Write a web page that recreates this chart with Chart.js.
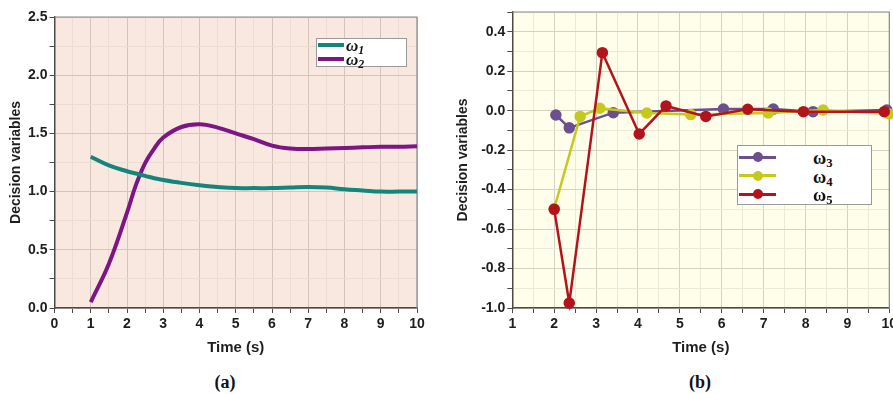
<!DOCTYPE html>
<html>
<head>
<meta charset="utf-8">
<script src="https://cdn.jsdelivr.net/npm/chart.js@4.4.1/dist/chart.umd.min.js"></script>
<style>
  html, body { margin: 0; padding: 0; background: #fff; overflow: hidden; }
  body { width: 893px; height: 394px; position: relative; }
  .panel { position: absolute; top: 0; }
  #panelA { left: 0; width: 446px; height: 362px; }
  #panelB { left: 446px; width: 455px; height: 362px; }
  .caption {
    position: absolute; top: 372px; width: 60px; margin-left: -30px; text-align: center;
    font: bold 18px 'Liberation Serif', 'DejaVu Serif', serif; color: #111;
  }
  .legend {
    position: absolute; background: #fff; border: 1px solid #9a9a9a; box-sizing: border-box;
  }
  .legend .row { position: absolute; left: 0; right: 0; height: 18px; }
  .legend .swatch { position: absolute; top: 50%; }
  .legend .dot { position: absolute; width: 10px; height: 10px; border-radius: 50%; top: 50%; margin-top: -5px; }
  .legend .lbl { position: absolute; top: 0; line-height: 18px; color: #111; }
  .legend sub { font-size: 70%; vertical-align: -3px; line-height: 0; }
  #legendA { left: 316px; top: 38px; width: 91px; height: 29px; }
  #legendA .lbl { font: italic bold 17px 'Liberation Serif', 'DejaVu Serif', serif; left: 29px; }
  #legendB { left: 291px; top: 145px; width: 135px; height: 60px; }
  #legendB .lbl { font: bold 18px 'Liberation Serif', 'DejaVu Serif', serif; left: 75px; }
</style>
</head>
<body>
<div class="panel" id="panelA">
  <canvas id="chartA" width="446" height="362"></canvas>
  <div class="legend" id="legendA"></div>
</div>
<div class="panel" id="panelB">
  <canvas id="chartB" width="455" height="362"></canvas>
  <div class="legend" id="legendB"></div>
</div>
<div class="caption" style="left:225px">(a)</div>
<div class="caption" style="left:700px">(b)</div>
<script>
// (a) smooth responses
const timeA = [1, 1.5, 2, 2.25, 2.5, 2.75, 3, 3.5, 4, 4.5, 5, 5.5, 6, 6.5, 7, 7.5, 8, 8.5, 9, 9.5, 10];
const omega1 = [1.30, 1.225, 1.175, 1.155, 1.135, 1.115, 1.10, 1.075, 1.055, 1.04, 1.03, 1.03, 1.03, 1.035, 1.04, 1.035, 1.02, 1.01, 1.00, 1.00, 1.00];
const omega2 = [0.05, 0.38, 0.82, 1.06, 1.245, 1.37, 1.465, 1.555, 1.578, 1.55, 1.50, 1.45, 1.395, 1.37, 1.365, 1.37, 1.375, 1.38, 1.385, 1.385, 1.39];

// (b) sampled responses
const time3 = [2.04, 2.36, 3.41, 6.04, 7.23, 8.18, 9.94];
const omega3 = [-0.022, -0.087, -0.01, 0.008, 0.008, -0.005, 0.003];
const time4 = [2.0, 2.62, 3.09, 4.21, 5.26, 7.11, 8.42, 10];
const omega4 = [-0.497, -0.029, 0.012, -0.012, -0.02, -0.012, 0.003, -0.017];
const time5 = [2.0, 2.36, 3.15, 4.03, 4.67, 5.62, 6.62, 7.95, 9.88];
const omega5 = [-0.5, -0.975, 0.294, -0.118, 0.024, -0.029, 0.007, -0.005, -0.005];

const xTicksA = [0, 10];
const yTicksA = [0, 2.5];
const xTicksB = [1, 10];
const yTicksB = [-1.0, 0.5];

const colors = {
  w1: '#14857d', w2: '#7d1587', w3: '#6b4f8e', w4: '#c5c91d', w5: '#b3141c',
  ink: '#1e1e1e', axis: '#4a4a4a', frame: '#8a8a8a',
};

Chart.defaults.font.family = "'Liberation Sans', Arial, sans-serif";
Chart.defaults.color = colors.ink;

const zip = (xs, ys) => xs.map((x, i) => ({ x, y: ys[i] }));
const isMult = (v, s) => Math.abs(v / s - Math.round(v / s)) < 1e-6;
const fmt1 = (v) => (Math.abs(v) < 1e-9 ? 0 : v).toFixed(1);

// plot background + frame
const plotBg = {
  id: 'plotBg',
  beforeDraw(chart, args, opts) {
    const { ctx, chartArea: a } = chart;
    ctx.save();
    ctx.fillStyle = opts.color;
    ctx.fillRect(a.left, a.top, a.right - a.left, a.bottom - a.top);
    ctx.restore();
  },
  beforeDatasetsDraw(chart) {
    const { ctx, chartArea: a } = chart;
    ctx.save();
    ctx.strokeStyle = colors.frame;
    ctx.lineWidth = 1.2;
    ctx.beginPath();
    ctx.moveTo(a.left, a.top);
    ctx.lineTo(a.right, a.top);
    ctx.lineTo(a.right, a.bottom);
    ctx.stroke();
    ctx.restore();
  },
};

function axisX(range, step, major, gridMajor, gridMinor, height) {
  return {
    type: 'linear', min: range[0], max: range[1],
    afterFit: (s) => { s.height = height; },
    ticks: {
      stepSize: step, autoSkip: false, maxRotation: 0, padding: 3,
      font: { size: 14, weight: 'bold' },
      callback: (v) => (isMult(v, major) ? String(Math.round(v)) : ''),
    },
    grid: {
      color: (c) => (isMult(c.tick.value, major) ? gridMajor : gridMinor),
      tickColor: colors.axis, tickLength: 5, lineWidth: 1,
    },
    border: { color: colors.axis, width: 1.5 },
    title: { display: true, text: 'Time (s)', font: { size: 15, weight: 'bold' }, padding: { bottom: 5 } },
  };
}

function axisY(range, step, major, gridMajor, gridMinor, width, titlePad) {
  return {
    type: 'linear', min: range[0], max: range[1],
    afterFit: (s) => { s.width = width; },
    ticks: {
      stepSize: step, autoSkip: false, padding: 2,
      font: { size: 14, weight: 'bold' },
      callback: (v) => (isMult(v, major) ? fmt1(v) : ''),
    },
    grid: {
      color: (c) => (isMult(c.tick.value, major) ? gridMajor : gridMinor),
      tickColor: colors.axis, tickLength: 5, lineWidth: 1,
    },
    border: { color: colors.axis, width: 1.5 },
    title: { display: true, text: 'Decision variables', font: { size: 14, weight: 'bold' }, padding: { top: titlePad } },
  };
}

const chartA = new Chart(document.getElementById('chartA'), {
  type: 'line',
  data: {
    datasets: [
      { label: '1', data: zip(timeA, omega1), borderColor: colors.w1, borderWidth: 4, pointRadius: 0, tension: 0.4 },
      { label: '2', data: zip(timeA, omega2), borderColor: colors.w2, borderWidth: 4, pointRadius: 0, tension: 0.4 },
    ],
  },
  options: {
    responsive: false, animation: false, devicePixelRatio: 1,
    layout: { padding: { top: 17, right: 29, left: 0, bottom: 0 } },
    plugins: { legend: { display: false }, tooltip: { enabled: false }, plotBg: { color: '#f9e8df' } },
    scales: {
      x: axisX(xTicksA, 0.5, 1, '#d6c4b9', '#ecdcd2', 54),
      y: axisY(yTicksA, 0.25, 0.5, '#d6c4b9', '#ecdcd2', 54.5, 7.5),
    },
  },
  plugins: [plotBg],
});

const pointStyle = (c) => ({
  borderColor: c, backgroundColor: c, pointBackgroundColor: c, pointBorderColor: c,
  borderWidth: 2.5, pointRadius: 4.5, tension: 0, clip: false,
});

const chartB = new Chart(document.getElementById('chartB'), {
  type: 'line',
  data: {
    datasets: [
      { label: '3', data: zip(time3, omega3), order: 3, ...pointStyle(colors.w3) },
      { label: '4', data: zip(time4, omega4), order: 2, ...pointStyle(colors.w4) },
      { label: '5', data: zip(time5, omega5), order: 1, ...pointStyle(colors.w5) },
    ],
  },
  options: {
    responsive: false, animation: false, devicePixelRatio: 1,
    layout: { padding: { top: 12, right: 11.7, left: 0, bottom: 0 } },
    plugins: { legend: { display: false }, tooltip: { enabled: false }, plotBg: { color: '#fefeeb' } },
    scales: {
      x: axisX(xTicksB, 0.5, 1, '#d3d3c4', '#eaeadb', 54),
      y: axisY(yTicksB, 0.1, 0.2, '#d3d3c4', '#eaeadb', 66.3, 8.5),
    },
  },
  plugins: [plotBg],
});

// html legends built from the datasets
function buildLegend(chart, el, opts) {
  chart.data.datasets.forEach((ds, i) => {
    const row = document.createElement('div');
    row.className = 'row';
    row.style.top = (opts.top + i * opts.gap) + 'px';
    const sw = document.createElement('div');
    sw.className = 'swatch';
    sw.style.left = opts.swLeft + 'px';
    sw.style.width = opts.swWidth + 'px';
    sw.style.height = opts.swThick + 'px';
    sw.style.marginTop = (-opts.swThick / 2) + 'px';
    sw.style.background = ds.borderColor;
    row.appendChild(sw);
    if (opts.dot) {
      const d = document.createElement('div');
      d.className = 'dot';
      d.style.left = (opts.swLeft + opts.swWidth / 2 - 5) + 'px';
      d.style.background = ds.borderColor;
      row.appendChild(d);
    }
    const lbl = document.createElement('div');
    lbl.className = 'lbl';
    lbl.innerHTML = '\u03c9<sub>' + ds.label + '</sub>';
    row.appendChild(lbl);
    el.appendChild(row);
  });
}

buildLegend(chartA, document.getElementById('legendA'), { top: -3, gap: 14, swLeft: 1, swWidth: 26, swThick: 4, dot: false });
buildLegend(chartB, document.getElementById('legendB'), { top: 2, gap: 18.5, swLeft: 1, swWidth: 37, swThick: 3, dot: true });
</script>
</body>
</html>
